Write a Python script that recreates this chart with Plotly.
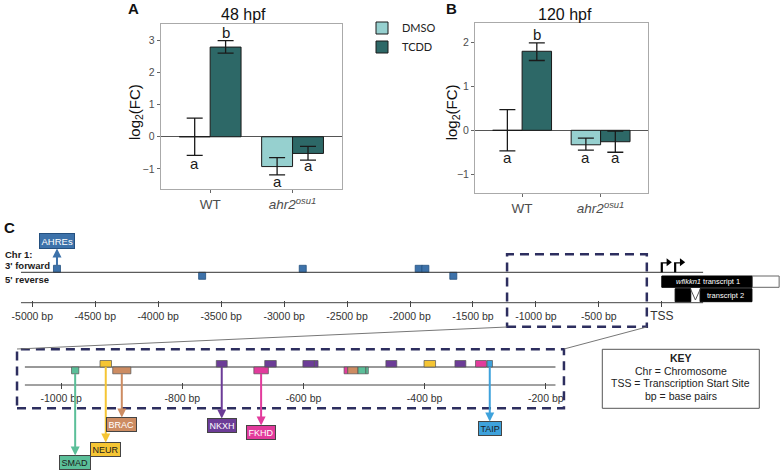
import plotly.graph_objects as go

W, H = 782, 473

# ---- panels A / B : log2 fold change
genotypes = ["WT", "<i>ahr2</i><sup><i>osu1</i></sup>"]
treatments = ["DMSO", "TCDD"]

fc_48_dmso = [0.00, -0.93]
fc_48_tcdd = [2.80, -0.52]
hi_48_dmso = [0.58, -0.65]
lo_48_dmso = [-0.58, -1.19]
hi_48_tcdd = [3.00, -0.30]
lo_48_tcdd = [2.61, -0.73]
let_48_dmso = ["a", "a"]
let_48_tcdd = ["b", "a"]
lety_48_dmso = [-0.82, -1.41]
lety_48_tcdd = [3.24, -0.91]

fc_120_dmso = [0.00, -0.33]
fc_120_tcdd = [1.80, -0.26]
hi_120_dmso = [0.47, -0.18]
lo_120_dmso = [-0.47, -0.45]
hi_120_tcdd = [1.99, -0.02]
lo_120_tcdd = [1.59, -0.50]
let_120_dmso = ["a", "a"]
let_120_tcdd = ["b", "a"]
lety_120_dmso = [-0.63, -0.63]
lety_120_tcdd = [2.19, -0.63]

# ---- panel C : promoter map (bp relative to TSS)
main_ticks = [-5000, -4500, -4000, -3500, -3000, -2500, -2000, -1500, -1000, -500, 0]
ahre_pos = [-4804, -3651, -2852, -1931, -1878, -1656]
ahre_strand = ["+", "-", "+", "+", "+", "-"]

zoom_ticks = [-1000, -800, -600, -400, -200]
site_start = [-983, -936, -915, -744, -682, -664, -601, -582, -533, -527, -510, -497, -464, -401, -350, -316, -297]
site_end = [-971, -917, -885, -726, -658, -645, -582, -576, -527, -510, -497, -493, -446, -382, -332, -298, -288]
site_family = ["SMAD", "NEUR", "BRAC", "NKXH", "FKHD", "NKXH", "NKXH", "NKXH", "FKHD",
               "BRAC", "SMAD", "SMAD", "NKXH", "NEUR", "NKXH", "FKHD", "TAIP"]
site_strand = ["-", "+", "-", "+", "-", "+", "+", "+", "-", "-", "-", "-", "+", "+", "+", "+", "+"]

tx1_exons = [(0, 720)]
tx1_utr = (720, 932)
tx2_exons = [(106, 230), (304, 716)]

DMSO_C = "#96d0cf"
TCDD_C = "#2d6867"
AHRE_C = "#3d72aa"
fam_color = {"SMAD": "#5bbf99", "NEUR": "#f5c534", "BRAC": "#cd8c62",
             "NKXH": "#6c3c97", "FKHD": "#e23b9c", "TAIP": "#3ea2dc"}
fam_text = {"SMAD": "#1a1a1a", "NEUR": "#1a1a1a", "BRAC": "#ffffff",
            "NKXH": "#ffffff", "FKHD": "#ffffff", "TAIP": "#1a1a1a"}
label_tip = {"SMAD": 455, "NEUR": 442, "BRAC": 417, "NKXH": 418, "FKHD": 425, "TAIP": 421}


def px(x):
    return x / W


def py(y):
    return 1 - y / H


fig = go.Figure()
annots = []
shapes = []


def note(**kw):
    kw.setdefault("xanchor", "center")
    kw.setdefault("yanchor", "middle")
    kw.setdefault("showarrow", False)
    annots.append(kw)


def bar_panel(xa, ya, dmso, tcdd, hd, ld, ht, lt, ld_txt, lt_txt, ldy, lty, show):
    for name, vals, hi, lo, col in [("DMSO", dmso, hd, ld, DMSO_C), ("TCDD", tcdd, ht, lt, TCDD_C)]:
        fig.add_trace(go.Bar(
            x=[0, 1], y=vals, name=name, xaxis=xa, yaxis=ya, showlegend=show,
            marker=dict(color=col, line=dict(color="#1a1a1a", width=1)),
            error_y=dict(type="data", symmetric=False,
                         array=[h - v for h, v in zip(hi, vals)],
                         arrayminus=[v - l for v, l in zip(vals, lo)],
                         color="#1a1a1a", thickness=1.3, width=8),
            hoverinfo="skip"))
    for off, txts, ys in [(-0.1875, ld_txt, ldy), (0.1875, lt_txt, lty)]:
        for i, (t, yv) in enumerate(zip(txts, ys)):
            note(x=i + off, y=yv, xref=xa, yref=ya, text=t, font=dict(size=15, color="#1a1a1a"))


bar_panel("x", "y", fc_48_dmso, fc_48_tcdd, hi_48_dmso, lo_48_dmso, hi_48_tcdd, lo_48_tcdd,
          let_48_dmso, let_48_tcdd, lety_48_dmso, lety_48_tcdd, True)
bar_panel("x2", "y2", fc_120_dmso, fc_120_tcdd, hi_120_dmso, lo_120_dmso, hi_120_tcdd, lo_120_tcdd,
          let_120_dmso, let_120_tcdd, lety_120_dmso, lety_120_tcdd, False)

# ---- main track (y3: 0 = chromosome line, 1 unit = 10 px)
fig.add_trace(go.Scatter(
    x=ahre_pos, y=[0.35 if s == "+" else -0.35 for s in ahre_strand],
    xaxis="x3", yaxis="y3", mode="markers", showlegend=False, cliponaxis=False,
    marker=dict(symbol="square", size=7, color=AHRE_C, line=dict(color="#24507f", width=0.8)),
    hoverinfo="skip"))

shapes.append(dict(type="line", xref="x3", yref="y3", x0=-5090, x1=328, y0=0, y1=0,
                   line=dict(color="#333", width=1)))
shapes.append(dict(type="line", xref="x3", yref="paper", x0=-5090, x1=328, y0=py(302.7), y1=py(302.7),
                   line=dict(color="#444", width=1)))

# transcripts
for a, b in tx1_exons:
    shapes.append(dict(type="rect", xref="x3", yref="paper", x0=a, x1=b, y0=py(287.3), y1=py(276),
                       fillcolor="black", line=dict(color="black", width=1)))
shapes.append(dict(type="rect", xref="x3", yref="paper", x0=tx1_utr[0], x1=tx1_utr[1], y0=py(287.3), y1=py(276),
                   fillcolor="white", line=dict(color="#666", width=1)))
for a, b in tx2_exons:
    shapes.append(dict(type="rect", xref="x3", yref="paper", x0=a, x1=b, y0=py(301.7), y1=py(288.7),
                       fillcolor="black", line=dict(color="black", width=1)))
ia, ib = tx2_exons[0][1], tx2_exons[1][0]
shapes.append(dict(type="path", xref="x3", yref="paper",
                   path=f"M{ia},{py(289.5)} L{(ia + ib) / 2},{py(300)} L{ib},{py(289.5)}",
                   line=dict(color="#555", width=1)))
note(x=368, y=py(281.7), xref="x3", yref="paper", text="<i>wfikkn1</i> transcript 1",
     font=dict(size=7.5, color="white"))
note(x=508, y=py(295.2), xref="x3", yref="paper", text="transcript 2",
     font=dict(size=7.5, color="white"))

# bent TSS arrows
tss_starts = [tx1_exons[0][0], tx2_exons[0][0]]
for x0 in tss_starts:
    shapes.append(dict(type="path", xref="x3", yref="y3", path=f"M{x0},0 V1 H{x0 + 45}",
                       line=dict(color="black", width=2.2)))
fig.add_trace(go.Scatter(
    x=[x0 + 52 for x0 in tss_starts], y=[1, 1], xaxis="x3", yaxis="y3", mode="markers",
    showlegend=False, cliponaxis=False, hoverinfo="skip",
    marker=dict(symbol="triangle-right", size=7, color="black")))

# AHRE label (arrow head on the label side)
note(x=ahre_pos[0], y=py(265), xref="x3", yref="paper", text="AHREs", showarrow=True,
     ax=0, ay=-24, arrowside="start", startarrowhead=2, startarrowsize=0.9, arrowwidth=2,
     arrowcolor=AHRE_C, bgcolor=AHRE_C, bordercolor="#24507f", borderwidth=1, borderpad=1.5,
     font=dict(size=9.5, color="white"))

for t, yy in [("Chr 1:", 254.7), ("3' forward", 265.7), ("5' reverse", 279.3)]:
    note(x=px(3), y=py(yy), xref="paper", yref="paper", text=f"<b>{t}</b>",
         xanchor="left", font=dict(size=9.5, color="#1a1a1a"))

# dashed zoom boxes + connectors
dash = dict(color="#2d2e5f", width=2.5, dash="9px,6px")
shapes.append(dict(type="rect", xref="x3", yref="paper", x0=-1229, x1=-119, y0=py(326.7), y1=py(254.3),
                   line=dash))
shapes.append(dict(type="rect", xref="x4", yref="paper", x0=-1073, x1=-170, y0=py(408.3), y1=py(349.3),
                   line=dash))
shapes.append(dict(type="line", xref="paper", yref="paper", x0=px(507), y0=py(327), x1=px(17), y1=py(349),
                   line=dict(color="#777", width=1)))
shapes.append(dict(type="line", xref="paper", yref="paper", x0=px(646.7), y0=py(327), x1=px(564), y1=py(349),
                   line=dict(color="#777", width=1)))

# ---- zoom track (y4: 0 = line)
shapes.append(dict(type="line", xref="x4", yref="y4", x0=-1060, x1=-184, y0=0, y1=0,
                   line=dict(color="#333", width=1)))
shapes.append(dict(type="line", xref="x4", yref="paper", x0=-1060, x1=-184, y0=py(385), y1=py(385),
                   line=dict(color="#444", width=1)))
for a, b, fam, s in zip(site_start, site_end, site_family, site_strand):
    y0, y1 = (0, 0.65) if s == "+" else (-0.68, 0)
    shapes.append(dict(type="rect", xref="x4", yref="y4", x0=a, x1=b, y0=y0, y1=y1,
                       fillcolor=fam_color[fam], line=dict(color="#555", width=0.7)))

done = set()
for a, b, fam, s in zip(site_start, site_end, site_family, site_strand):
    if fam in done:
        continue
    done.add(fam)
    start = 367 if s == "+" else 374
    centre = label_tip[fam] + 7.5
    note(x=(a + b) / 2, y=py(start), xref="x4", yref="paper", text=fam, showarrow=True,
         ax=0, ay=centre - start, arrowside="start", startarrowhead=2, startarrowsize=0.9,
         arrowwidth=2, arrowcolor=fam_color[fam],
         bgcolor=fam_color[fam], bordercolor="#444", borderwidth=1, borderpad=1.5,
         font=dict(size=9, color=fam_text[fam]))

# key box
shapes.append(dict(type="rect", xref="paper", yref="paper", x0=px(602.3), x1=px(759.3),
                   y0=py(408.3), y1=py(349.3), line=dict(color="#555", width=1)))
for t, yy in [("<b>KEY</b>", 358.3), ("Chr = Chromosome", 371), ("TSS = Transcription Start Site", 383.3),
              ("bp = base pairs", 395.7)]:
    note(x=px(680.8), y=py(yy), xref="paper", yref="paper", text=t, font=dict(size=10.5, color="#222"))

# titles and panel letters
for t, x, y in [("<b>A</b>", 133, 9), ("<b>B</b>", 451.5, 9), ("<b>C</b>", 9, 227)]:
    note(x=px(x), y=py(y), xref="paper", yref="paper", text=t, font=dict(size=15, color="#111"))
for t, x in [("48 hpf", 243.3), ("120 hpf", 564.7)]:
    note(x=px(x), y=py(14.5), xref="paper", yref="paper", text=t, font=dict(size=16, color="#111"))
for x in [135, 452.3]:
    note(x=px(x), y=py(112), xref="paper", yref="paper", text="log<sub>2</sub>(FC)",
         textangle=-90, font=dict(size=15, color="#111"))

bar_x = dict(range=[-0.6, 1.6], tickvals=[0, 1], ticktext=genotypes, ticks="outside", ticklen=3,
             tickcolor="#666", showline=True, mirror=True, linecolor="#aaaaaa", linewidth=1,
             showgrid=False, zeroline=False, automargin=False, tickfont=dict(size=13.5, color="#4d4d4d"))
bar_y = dict(ticks="outside", ticklen=3, tickcolor="#666", showline=True, mirror=True,
             linecolor="#aaaaaa", linewidth=1, showgrid=False, zeroline=True, zerolinecolor="#555",
             zerolinewidth=1.2, automargin=False, tickfont=dict(size=10.5, color="#4d4d4d"))

fig.update_layout(
    template="none",
    width=W, height=H, margin=dict(l=0, r=0, t=0, b=0, pad=0), autosize=False,
    paper_bgcolor="white", plot_bgcolor="rgba(0,0,0,0)",
    font=dict(family="Liberation Sans, Arial, sans-serif", color="#222"),
    barmode="group", bargap=0.25, bargroupgap=0,
    xaxis=dict(domain=[px(160.7), px(342)], anchor="y", **bar_x),
    yaxis=dict(domain=[py(189), py(24)], anchor="x", range=[-1.63, 3.52], tickvals=[-1, 0, 1, 2, 3], **bar_y),
    xaxis2=dict(domain=[px(475), px(647.7)], anchor="y2", **bar_x),
    yaxis2=dict(domain=[py(193), py(23)], anchor="x2", range=[-1.428, 2.444], tickvals=[-1, 0, 1, 2], **bar_y),
    xaxis3=dict(domain=[0, 1], anchor="free", position=py(300), range=[-5256.6, 954.7],
                tickvals=main_ticks,
                ticktext=[f"{t} bp" for t in main_ticks[:-1]] + ["<span style='font-size:12px'>TSS</span>"],
                ticks="outside", ticklen=6, tickcolor="#444", showline=False, showgrid=False,
                zeroline=False, automargin=False, tickfont=dict(size=10.5, color="#333")),
    yaxis3=dict(domain=[py(282.3), py(262.3)], anchor="x3", range=[-1, 1], visible=False, automargin=False),
    xaxis4=dict(domain=[0, 1], anchor="free", position=py(382), range=[-1101.1, 190],
                tickvals=zoom_ticks, ticktext=[f"{t} bp" for t in zoom_ticks],
                ticks="outside", ticklen=6, tickcolor="#444", showline=False, showgrid=False,
                zeroline=False, automargin=False, tickfont=dict(size=10.5, color="#333")),
    yaxis4=dict(domain=[py(377), py(357)], anchor="x4", range=[-1, 1], visible=False, automargin=False),
    legend=dict(x=px(362), y=py(13.5), xanchor="left", yanchor="top", bgcolor="rgba(0,0,0,0)",
                font=dict(family="Lato, sans-serif", size=11, color="#222"), tracegroupgap=0),
    annotations=annots, shapes=shapes,
)

# page body has a default 8px margin; drop it so the figure fills the window
fig.write_html("out.html", config={"displayModeBar": False},
               post_script="document.body.style.margin='0';")
